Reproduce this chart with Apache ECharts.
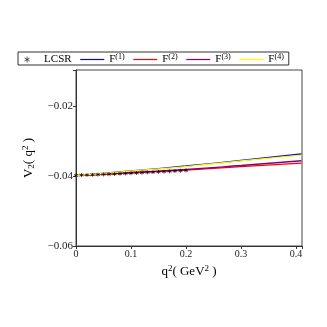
<!DOCTYPE html>
<html>
<head>
<meta charset="utf-8">
<script src="https://cdn.jsdelivr.net/npm/echarts@6/dist/echarts.min.js"></script>
<style>
  html, body { margin: 0; padding: 0; background: #fff; }
  #chart { width: 327px; height: 327px; }
</style>
</head>
<body>
<div id="chart"></div>
<script>
// data
const lcsrQ = [0, 0.01, 0.02, 0.03, 0.04, 0.05, 0.06, 0.07, 0.08, 0.09, 0.1,
  0.11, 0.12, 0.13, 0.14, 0.15, 0.16, 0.17, 0.18, 0.19, 0.2]
const lcsrV = [-0.0398, -0.03975, -0.0397, -0.03965, -0.0396, -0.03955, -0.0395, -0.03942,
  -0.03935, -0.03928, -0.0392, -0.03912, -0.03905, -0.03897, -0.0389, -0.03882,
  -0.03875, -0.03866, -0.03858, -0.0385, -0.03842]

const fitQ = [0, 0.1, 0.2, 0.3, 0.41]
const f1 = [-0.03986, -0.03857, -0.03714, -0.03557, -0.03371]
const f2 = [-0.0399, -0.03914, -0.03829, -0.03729, -0.03629]
const f3 = [-0.03986, -0.0390, -0.03814, -0.0370, -0.03563]
const f4 = [-0.03986, -0.0386, -0.0373, -0.0357, -0.0340]

const xTicks = [0, 0.1, 0.2, 0.3, 0.4]
const yTicks = [-0.06, -0.04, -0.02]

const serif = 'Liberation Serif'
const starPath = 'path://M0,-5L0,5M-4.33,-2.5L4.33,2.5M-4.33,2.5L4.33,-2.5'

function pairs(xs, ys) {
  return xs.map((x, i) => [x, ys[i]])
}

const myChart = echarts.init(document.getElementById('chart'))

function lineSeries(name, data, color) {
  return {
    name: name,
    type: 'line',
    data: pairs(fitQ, data),
    showSymbol: false,
    symbol: 'none',
    smooth: true,
    lineStyle: { color: color, width: 1.3 },
    itemStyle: { color: color },
    z: 2
  }
}

// legend entries for the fits: line only, hide the symbol
function lineEntry(name) {
  return { name: name, itemStyle: { color: 'rgba(0,0,0,0)', borderWidth: 0 } }
}

const option = {
  animation: false,
  grid: {
    left: 76, right: 25, top: 70, bottom: 81,
    show: true, borderColor: '#444', borderWidth: 1
  },
  legend: {
    left: 18, top: 52,
    padding: [1, 5, 0, 4],
    itemGap: 8,
    itemWidth: 24,
    itemHeight: 6,
    borderColor: '#333',
    borderWidth: 1,
    lineStyle: { width: 1.2 },
    textStyle: {
      fontFamily: serif, fontSize: 11, color: '#000',
      rich: {
        b: { fontFamily: serif, fontSize: 11, color: '#000' },
        s: { fontFamily: serif, fontSize: 8, color: '#000', verticalAlign: 'bottom', padding: [0, 0, 5, 0] }
      }
    },
    formatter: function (name) {
      if (name === 'LCSR') return '{b|LCSR}'
      return '{b|F}{s|' + name.slice(1) + '}'
    },
    data: [
      { name: 'LCSR', icon: starPath, itemStyle: { color: 'none', borderColor: '#000', borderWidth: 0.8 } },
      lineEntry('F(1)'), lineEntry('F(2)'), lineEntry('F(3)'), lineEntry('F(4)')
    ]
  },
  xAxis: {
    type: 'value',
    min: 0, max: 0.411, interval: 0.1,
    name: '{b|q}{s|2}{b|( GeV}{s|2}{b| )}',
    nameLocation: 'middle',
    nameGap: 12,
    nameTextStyle: {
      rich: {
        b: { fontFamily: serif, fontSize: 13, color: '#000' },
        s: { fontFamily: serif, fontSize: 9, color: '#000', verticalAlign: 'bottom', padding: [0, 0, 6, 0] }
      }
    },
    axisLine: { lineStyle: { color: '#333' } },
    axisTick: { length: 3, lineStyle: { color: '#333' } },
    splitLine: { show: false },
    axisLabel: {
      fontFamily: serif, fontSize: 10, color: '#222', margin: 3,
      formatter: function (v) {
        return xTicks.some(t => Math.abs(t - v) < 1e-9) ? String(v) : ''
      }
    }
  },
  yAxis: {
    type: 'value',
    min: -0.06, max: -0.0097, interval: 0.02,
    name: '{b|V}{sub|2}{b|( q}{s|2}{b| )}',
    nameLocation: 'middle',
    nameGap: 40,
    nameRotate: 90,
    nameTextStyle: {
      rich: {
        b: { fontFamily: serif, fontSize: 13, color: '#000' },
        s: { fontFamily: serif, fontSize: 9, color: '#000', verticalAlign: 'bottom', padding: [0, 0, 6, 0] },
        sub: { fontFamily: serif, fontSize: 9, color: '#000', verticalAlign: 'top', padding: [6, 0, 0, 0] }
      }
    },
    axisLine: { lineStyle: { color: '#333' } },
    axisTick: { length: 3, lineStyle: { color: '#333' } },
    splitLine: { show: false },
    axisLabel: {
      fontFamily: serif, fontSize: 11, color: '#222', margin: 3,
      formatter: function (v) {
        return yTicks.some(t => Math.abs(t - v) < 1e-9) ? v.toFixed(2).replace('-', '\u2212') : ''
      }
    }
  },
  series: [
    {
      name: 'LCSR',
      type: 'scatter',
      data: pairs(lcsrQ, lcsrV),
      symbol: starPath,
      symbolSize: 4,
      itemStyle: { color: 'none', borderColor: '#000', borderWidth: 0.8 },
      z: 3
    },
    lineSeries('F(1)', f1, '#0000ff'),
    lineSeries('F(2)', f2, '#ff0000'),
    lineSeries('F(3)', f3, '#800080'),
    lineSeries('F(4)', f4, '#ffff00')
  ]
}

myChart.setOption(option)
</script>
</body>
</html>
